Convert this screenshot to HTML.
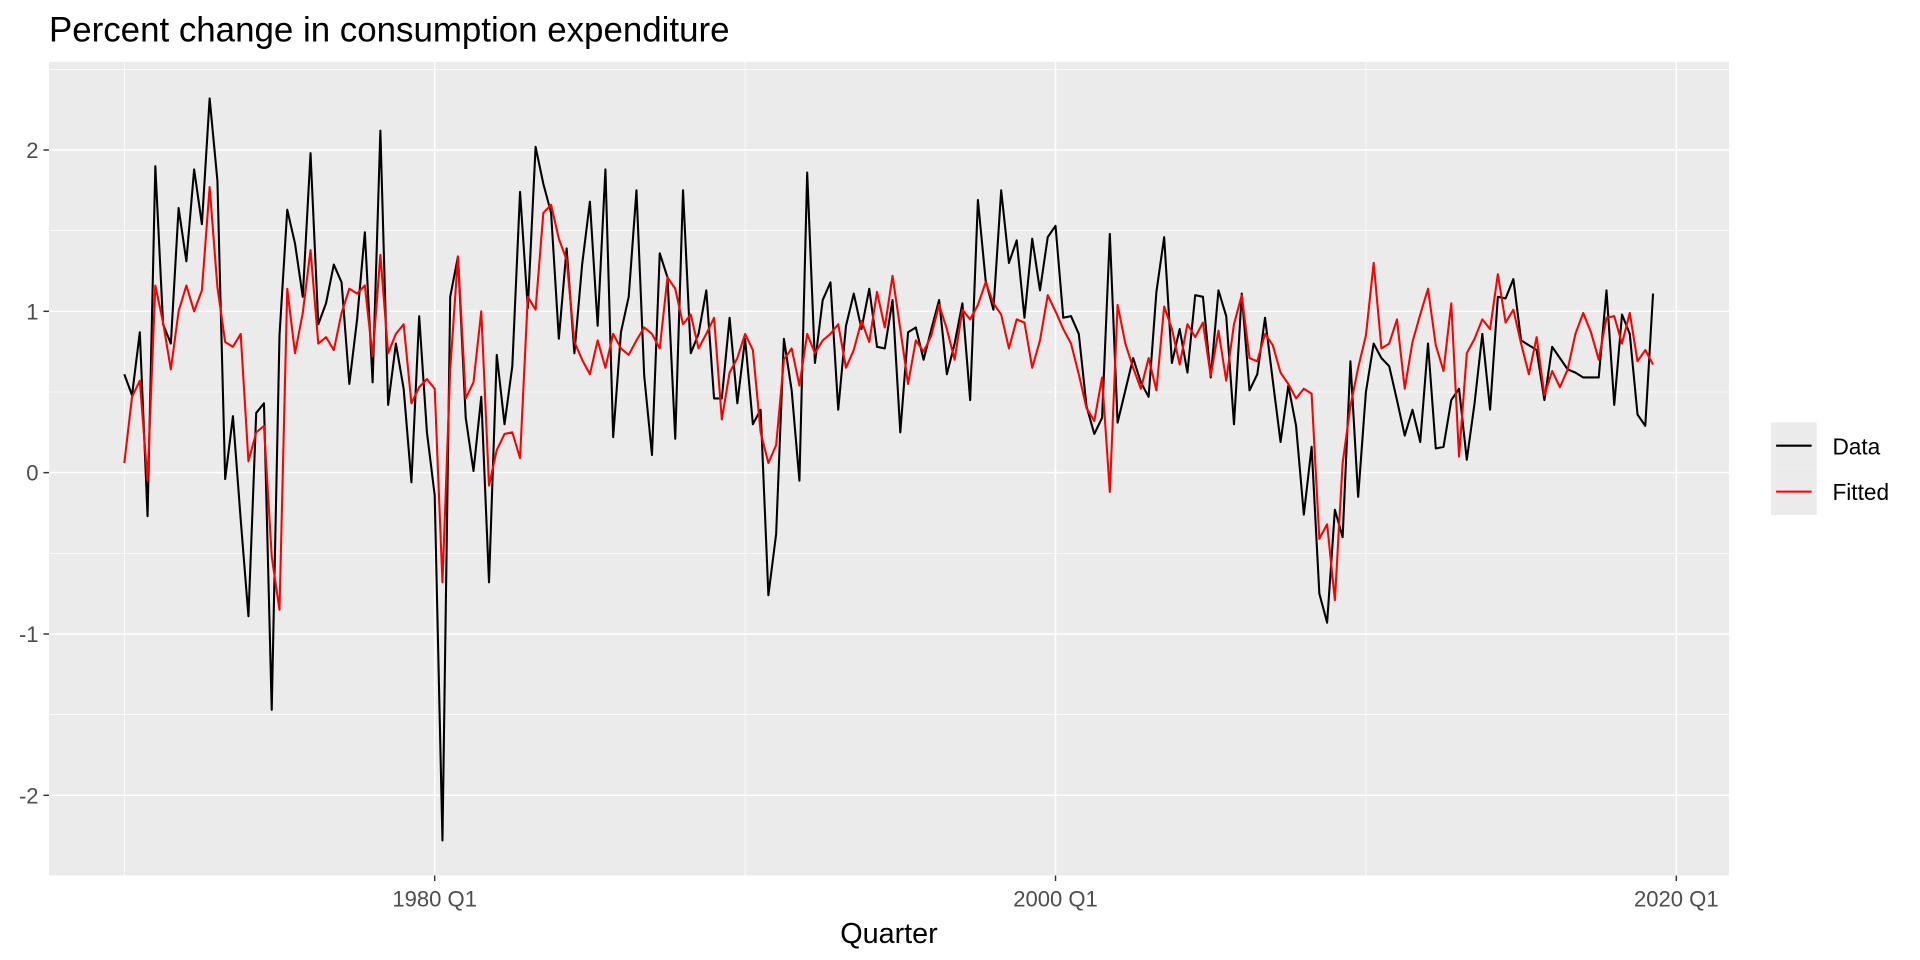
<!DOCTYPE html>
<html><head><meta charset="utf-8"><style>
html,body{margin:0;padding:0;background:#fff;}
svg{display:block;font-family:"Liberation Sans",Arial,sans-serif;}
</style></head><body>
<svg id="s" width="1920" height="960" viewBox="0 0 1568 784" xmlns="http://www.w3.org/2000/svg">
<rect width="1568" height="784" fill="#fff"/>
<rect x="40" y="50.5" width="1372" height="664.5" fill="#EBEBEB"/>
<g id="grid"></g>
<polyline id="data" fill="none" stroke="#000" stroke-width="1.7" stroke-linejoin="round"/>
<polyline id="fit" fill="none" stroke="#FF0000" stroke-width="1.7" stroke-linejoin="round"/>
<g id="axes" fill="#4D4D4D" font-size="18"></g>
<text x="40" y="34" font-size="28.5" fill="#000">Percent change in consumption expenditure</text>
<text x="726" y="770" font-size="23.5" fill="#000" text-anchor="middle">Quarter</text>
<rect x="1446.3" y="345" width="37.3" height="37.8" fill="#EBEBEB"/>
<rect x="1446.3" y="382.8" width="37.3" height="37.8" fill="#EBEBEB"/>
<line x1="1450.5" y1="364" x2="1479.5" y2="364" stroke="#000" stroke-width="1.7"/>
<line x1="1450.5" y1="401.5" x2="1479.5" y2="401.5" stroke="#FF0000" stroke-width="1.7"/>
<text x="1496.5" y="371" font-size="18.5" fill="#000">Data</text>
<text x="1496.5" y="408.5" font-size="18.5" fill="#000">Fitted</text>
</svg>
<script>
var D=[0.61,0.48,0.87,-0.27,1.90,0.92,0.80,1.64,1.31,1.88,1.54,2.32,1.81,-0.04,0.35,-0.29,-0.89,0.37,0.43,-1.47,0.85,1.63,1.42,1.09,1.98,0.92,1.05,1.29,1.18,0.55,0.95,1.49,0.56,2.12,0.42,0.80,0.52,-0.06,0.97,0.25,-0.14,-2.28,1.09,1.34,0.34,0.01,0.47,-0.68,0.73,0.30,0.66,1.74,1.02,
2.02,1.79,1.61,0.83,1.39,0.74,1.29,1.68,0.91,1.88,0.22,0.87,1.09,1.75,0.60,0.11,1.36,1.21,0.21,1.75,0.74,0.86,1.13,0.46,0.46,0.96,0.43,0.83,0.30,0.39,-0.76,-0.38,0.83,0.51,-0.05,1.86,0.68,1.07,1.18,0.39,0.91,1.11,0.89,1.14,0.78,0.77,1.07,0.25,0.87,0.90,0.70,0.89,1.07,
0.61,0.80,1.05,0.45,1.69,1.19,1.01,1.75,1.30,1.44,0.96,1.45,1.13,1.46,1.53,0.96,0.97,0.86,0.41,0.24,0.34,1.48,0.31,0.51,0.71,0.56,0.47,1.12,1.46,0.68,0.89,0.62,1.10,1.09,0.59,1.13,0.97,0.30,1.11,0.51,0.61,0.96,0.57,0.19,0.54,0.29,-0.26,0.16,-0.75,-0.93,-0.23,-0.40,0.69,
-0.15,0.50,0.80,0.71,0.66,0.45,0.23,0.39,0.19,0.80,0.15,0.16,0.45,0.52,0.08,0.43,0.86,0.39,1.09,1.08,1.20,0.82,0.79,0.76,0.45,0.78,0.71,0.64,0.62,0.59,0.59,0.59,1.13,0.42,0.98,0.86,0.36,0.29,1.11];
var F=[0.06,0.47,0.57,-0.05,1.16,0.93,0.64,1.00,1.16,1.00,1.13,1.77,1.15,0.81,0.78,0.86,0.07,0.25,0.29,-0.52,-0.85,1.14,0.74,0.99,1.38,0.80,0.84,0.76,0.99,1.14,1.11,1.16,0.72,1.35,0.74,0.86,0.92,0.43,0.53,0.58,0.52,-0.68,0.64,1.34,0.46,0.56,1.00,-0.08,0.14,0.24,0.25,0.09,1.09,
1.01,1.61,1.66,1.45,1.32,0.81,0.70,0.61,0.82,0.65,0.86,0.77,0.73,0.82,0.90,0.86,0.77,1.21,1.14,0.92,0.98,0.77,0.86,0.96,0.33,0.62,0.71,0.86,0.76,0.25,0.06,0.17,0.70,0.77,0.54,0.86,0.74,0.82,0.86,0.92,0.65,0.76,0.94,0.81,1.12,0.90,1.22,0.89,0.55,0.82,0.75,0.85,1.04,
0.89,0.70,1.01,0.95,1.04,1.18,1.05,0.98,0.77,0.95,0.93,0.65,0.82,1.10,1.00,0.89,0.80,0.61,0.40,0.32,0.59,-0.12,1.04,0.80,0.65,0.52,0.71,0.51,1.03,0.89,0.67,0.92,0.84,0.93,0.60,0.88,0.57,0.92,1.10,0.71,0.69,0.86,0.79,0.62,0.55,0.46,0.52,0.49,-0.41,-0.32,-0.79,0.06,0.41,
0.65,0.85,1.30,0.77,0.80,0.95,0.52,0.81,0.98,1.14,0.79,0.63,1.05,0.10,0.74,0.83,0.95,0.89,1.23,0.93,1.01,0.80,0.61,0.84,0.48,0.63,0.53,0.64,0.86,0.99,0.87,0.70,0.96,0.97,0.80,0.99,0.69,0.76,0.67];
function X(q){return 101.5+6.3375*q;}function Y(v){return 386-131.75*v;}
function pts(a){return a.map(function(v,i){return X(i).toFixed(2)+","+Y(v).toFixed(2);}).join(" ");}
document.getElementById("data").setAttribute("points",pts(D));
document.getElementById("fit").setAttribute("points",pts(F));
var NS="http://www.w3.org/2000/svg",g=document.getElementById("grid"),ax=document.getElementById("axes");
function ln(p,x1,y1,x2,y2,c,w){var l=document.createElementNS(NS,"line");l.setAttribute("x1",x1);l.setAttribute("y1",y1);l.setAttribute("x2",x2);l.setAttribute("y2",y2);l.setAttribute("stroke",c);l.setAttribute("stroke-width",w);p.appendChild(l);}
function tx(x,y,s,a){var t=document.createElementNS(NS,"text");t.setAttribute("x",x);t.setAttribute("y",y);t.setAttribute("text-anchor",a);t.textContent=s;ax.appendChild(t);}
[-2.5,-1.5,-0.5,0.5,1.5,2.5].forEach(function(v){ln(g,40,Y(v),1412,Y(v),"#fff",0.6);});
[101.5,608.5,1115.5].forEach(function(x){ln(g,x,50.5,x,715,"#fff",0.6);});
[-2,-1,0,1,2].forEach(function(v){ln(g,40,Y(v),1412,Y(v),"#fff",1.2);ln(ax,35.5,Y(v),40,Y(v),"#333",1.2);tx(31.5,Y(v)+6.5,String(v),"end");});
[[355,"1980 Q1"],[862,"2000 Q1"],[1369,"2020 Q1"]].forEach(function(a){ln(g,a[0],50.5,a[0],715,"#fff",1.2);ln(ax,a[0],715,a[0],719.5,"#333",1.2);tx(a[0],740.5,a[1],"middle");});
</script>
</body></html>
